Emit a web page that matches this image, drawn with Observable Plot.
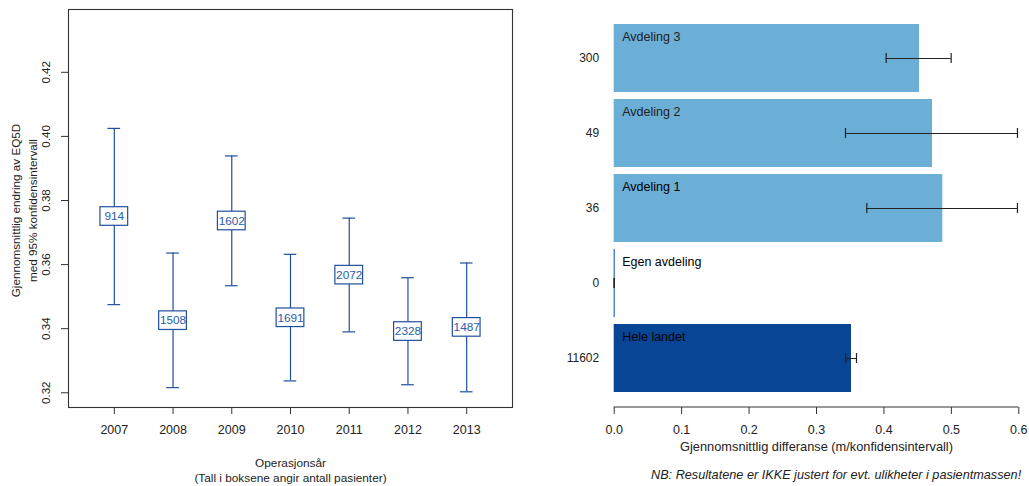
<!DOCTYPE html>
<html>
<head>
<meta charset="utf-8">
<script src="https://cdn.jsdelivr.net/npm/d3@7"></script>
<script src="https://cdn.jsdelivr.net/npm/@observablehq/plot@0.6"></script>
<style>
  html, body { margin: 0; padding: 0; background: #fff; }
  #wrap { position: relative; width: 1029px; height: 486px; overflow: hidden; }
  #left, #right { position: absolute; top: 0; }
  #left { left: 0; }
  #right { left: 520px; }
</style>
</head>
<body>
<div id="wrap">
  <div id="left"></div>
  <div id="right"></div>
</div>
<script>
// Mean change in EQ5D per operation year, with 95% confidence limits and patient counts
const years = [2007, 2008, 2009, 2010, 2011, 2012, 2013];
const means = [0.3750, 0.3425, 0.3736, 0.3434, 0.3567, 0.3391, 0.3404];
const lower = [0.3475, 0.3216, 0.3534, 0.3237, 0.3390, 0.3225, 0.3203];
const upper = [0.4025, 0.3636, 0.3939, 0.3632, 0.3745, 0.3559, 0.3605];
const counts = [914, 1508, 1602, 1691, 2072, 2328, 1487];
const yTicks = [0.32, 0.34, 0.36, 0.38, 0.40, 0.42];

// Mean difference per unit, with confidence limits and number of patients
const units = ["Avdeling 3", "Avdeling 2", "Avdeling 1", "Egen avdeling", "Hele landet"];
const patients = [300, 49, 36, 0, 11602];
const diffs = [0.4527, 0.4720, 0.4873, 0, 0.3519];
const diffLow = [0.4033, 0.3430, 0.3746, 0, 0.3434];
const diffHigh = [0.4997, 0.5980, 0.5980, 0, 0.3593];
const xTicks = [0, 0.1, 0.2, 0.3, 0.4, 0.5, 0.6];

const font = "'Liberation Sans', Arial, Helvetica, sans-serif";
const blue = "#1f4f9e";
const labelBlue = "#2a5cae";

const yearRows = years.map((year, i) => ({
  year, mean: means[i], lo: lower[i], hi: upper[i], n: counts[i]
}));

const unitRows = units.map((unit, i) => ({
  unit, n: patients[i], value: diffs[i], lo: diffLow[i], hi: diffHigh[i]
}));

const capHalf = 0.108;   // half width of whisker caps, in years
const boxHalfX = 0.236;  // half width of the count boxes, in years
const boxHalfY = 0.0029; // half height of the count boxes, in EQ5D units

const left = Plot.plot({
  width: 520,
  height: 486,
  marginLeft: 68,
  marginRight: 8,
  marginTop: 9,
  marginBottom: 79,
  style: { fontFamily: font, fontSize: "12.5px", color: "#222", background: "#fff" },
  x: { domain: [2006.22, 2013.78] },
  y: { domain: [0.3154, 0.4396] },
  marks: [
    Plot.frame({ stroke: "#333", strokeWidth: 1.1 }),
    Plot.axisX({ ticks: years, tickFormat: d => String(d), tickSize: 7, tickPadding: 11, label: null, stroke: "#333" }),
    Plot.axisY({ ticks: yTicks, tickFormat: () => "", tickSize: 7, label: null, stroke: "#333" }),
    Plot.text(yTicks, {
      y: d => d, text: d => d.toFixed(2), frameAnchor: "left", dx: -22.5,
      textAnchor: "middle", lineAnchor: "middle", rotate: -90, fontSize: 11.6, fill: "#222"
    }),
    Plot.text(["Gjennomsnittlig endring av EQ5D\nmed 95% konfidensintervall"], {
      text: d => d, frameAnchor: "left", dx: -45.5, dy: 2, rotate: -90,
      textAnchor: "middle", lineAnchor: "middle", lineHeight: 1.42, fontSize: 11.7, fill: "#222"
    }),
    Plot.text(["Operasjonsår\n(Tall i boksene angir antall pasienter)"], {
      text: d => d, frameAnchor: "bottom", dy: 62.2, textAnchor: "middle", lineAnchor: "middle",
      lineHeight: 1.27, fontSize: 11.8, fill: "#222"
    }),
    // confidence interval whiskers
    Plot.ruleX(yearRows, { x: "year", y1: "lo", y2: "hi", stroke: blue, strokeWidth: 1.2 }),
    Plot.ruleY(yearRows, { y: "lo", x1: d => d.year - capHalf, x2: d => d.year + capHalf, stroke: blue, strokeWidth: 1.2 }),
    Plot.ruleY(yearRows, { y: "hi", x1: d => d.year - capHalf, x2: d => d.year + capHalf, stroke: blue, strokeWidth: 1.2 }),
    // boxed patient counts at the mean
    Plot.rect(yearRows, {
      x1: d => d.year - boxHalfX, x2: d => d.year + boxHalfX,
      y1: d => d.mean - boxHalfY, y2: d => d.mean + boxHalfY,
      fill: "#fff", stroke: blue, strokeWidth: 1.2
    }),
    Plot.text(yearRows, { x: "year", y: "mean", text: d => String(d.n), fill: labelBlue, fontSize: 11.8 })
  ]
});
document.getElementById("left").append(left);

const nByUnit = new Map(unitRows.map(d => [d.unit, d.n]));
const darkUnits = new Set(["Avdeling 1", "Egen avdeling", "Hele landet"]);

const right = Plot.plot({
  width: 509,
  height: 486,
  marginLeft: 93.7,
  marginRight: 10.7,
  marginTop: 9,
  marginBottom: 79,
  style: { fontFamily: font, fontSize: "12.5px", color: "#222", background: "#fff" },
  x: { domain: [0, 0.6] },
  y: { domain: units, paddingInner: 0.0909, paddingOuter: 0.196 },
  marks: [
    Plot.barX(unitRows, {
      x: "value", y: "unit",
      fill: d => d.unit === "Hele landet" ? "#084594" : "#6baed6"
    }),
    // a zero-valued unit still shows its bar edge
    Plot.tickX(unitRows.filter(d => d.value === 0), { x: "value", y: "unit", stroke: "#2c6bb3", strokeWidth: 1.2 }),
    // confidence intervals
    Plot.ruleY(unitRows, { y: "unit", x1: "lo", x2: "hi", stroke: "#222", strokeWidth: 1 }),
    Plot.tickX(unitRows, { x: "lo", y: "unit", insetTop: 29, insetBottom: 29, stroke: "#222", strokeWidth: 1.2 }),
    Plot.tickX(unitRows, { x: "hi", y: "unit", insetTop: 29, insetBottom: 29, stroke: "#222", strokeWidth: 1.2 }),
    Plot.text(unitRows, {
      x: 0, y: "unit", text: "unit", textAnchor: "start", dx: 8, dy: -21.5, fontSize: 12.5,
      fill: d => darkUnits.has(d.unit) ? "#000" : "#222",
      fontWeight: d => darkUnits.has(d.unit) ? 600 : 400
    }),
    Plot.axisY({ tickSize: 0, tickPadding: 15, tickFormat: d => String(nByUnit.get(d)), label: null, fontSize: 12 }),
    Plot.axisX({ ticks: xTicks, tickFormat: d => d.toFixed(1), tickSize: 7, tickPadding: 11, label: null, stroke: "#333" }),
    Plot.text(["Gjennomsnittlig differanse (m/konfidensintervall)"], {
      text: d => d, frameAnchor: "bottom", dy: 39.5, textAnchor: "middle", lineAnchor: "middle",
      fontSize: 12.8, fill: "#222"
    }),
    Plot.text(["NB: Resultatene er IKKE justert for evt. ulikheter i pasientmassen!"], {
      text: d => d, frameAnchor: "bottom-right", textAnchor: "end", lineAnchor: "middle", dx: 2.4, dy: 67,
      fontSize: 12.7, fontStyle: "italic", fill: "#222"
    })
  ]
});
document.getElementById("right").append(right);

// axis baseline along the bottom of the bar panel
{
  const xs = right.scale("x");
  d3.select(right).append("line")
    .attr("x1", xs.apply(0)).attr("x2", xs.apply(0.6))
    .attr("y1", 486 - 79).attr("y2", 486 - 79)
    .attr("stroke", "#333");
}
</script>
</body>
</html>
